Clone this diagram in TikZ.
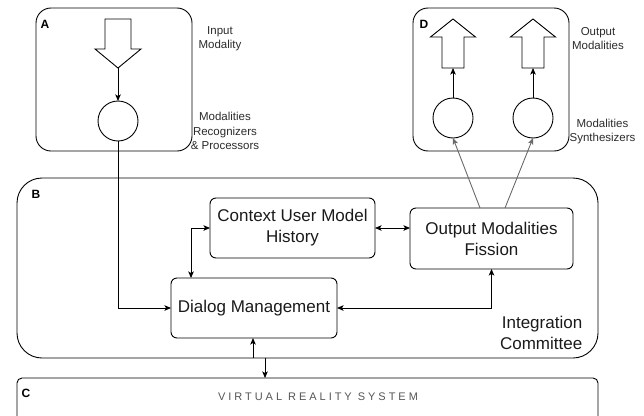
\documentclass[tikz,border=0pt]{standalone}
\usepackage{fontspec}
\setmainfont{Liberation Sans}
\usetikzlibrary{arrows.meta}
\definecolor{ink}{HTML}{1A1A1A}
\definecolor{note}{HTML}{2B2B2B}
\definecolor{soft}{HTML}{555555}
\definecolor{link}{HTML}{6A6A6A}
\begin{document}
\begin{tikzpicture}[x=1pt,y=-1pt,
  line width=0.9pt,
  tip/.tip={Stealth[length=6.5pt,width=5.5pt,inset=1.5pt]},
  arr/.style={-tip},
  both/.style={tip-tip},
  group/.style={draw, outer sep=0pt, inner sep=0pt},
  proc/.style={draw, rounded corners=6pt, outer sep=0pt, align=center,
    text=ink, font=\fontsize{17}{21}\selectfont},
  unit/.style={draw, circle, minimum size=40pt, inner sep=0pt, outer sep=0pt},
  block/.style={draw, line join=miter},
  note/.style={align=center, text=note, font=\fontsize{11.5}{14.5}\selectfont},
  tag/.style={text=black, font=\fontsize{12}{14}\selectfont\bfseries, inner sep=0pt},
]
\useasboundingbox (0,0) rectangle (644,415);
\clip (0,0) rectangle (644,415);

% ---- group frames ----
\node[group, rounded corners=15pt, minimum width=156pt, minimum height=143pt] (A) at (114,79.5) {};
\node[group, rounded corners=15pt, minimum width=156pt, minimum height=143pt] (D) at (491,79.5) {};
\node[group, rounded corners=25pt, minimum width=581pt, minimum height=180pt] (B) at (307.5,268) {};
\node[group, rounded corners=5pt, minimum width=581pt, minimum height=62pt] (C) at (307.5,409) {};

\node[tag] (tA) at (45,24) {A};
\node[tag] (tD) at (424,24) {D};
\node[tag] (tB) at (36,194) {B};
\node[tag] (tC) at (26,393) {C};

% ---- input side ----
\draw[block] (105,19) -- (131,19) -- (131,49) -- (141,49) -- (118,68) -- (95,49) -- (105,49) -- cycle;
\coordinate (inTip) at (118,68);
\node[unit] (rec) at (118,121) {};
\node[note] (inLbl) at (220,38.5) {Input\\Modality};
\node[note] (recLbl) at (225,131) {Modalities\\Recognizers\\\& Processors};

% ---- output side ----
\draw[block] (453,19) -- (475.5,37) -- (464,37) -- (464,68) -- (442,68) -- (442,37) -- (430.5,37) -- cycle;
\draw[block] (533,19) -- (555.5,37) -- (544,37) -- (544,68) -- (522,68) -- (522,37) -- (510.5,37) -- cycle;
\coordinate (outL) at (453,68);
\coordinate (outR) at (533,68);
\node[unit] (synL) at (453,118) {};
\node[unit] (synR) at (533,118) {};
\node[note] (outLbl) at (598,38.5) {Output\\Modalities};
\node[note] (synLbl) at (602.5,131.5) {Modalities\\Synthesizers};

% ---- integration committee ----
\node[proc, minimum width=165pt, minimum height=60pt] (ctx) at (292.5,228) {Context User Model\\History};
\node[proc, minimum width=166pt, minimum height=60pt] (dlg) at (254,308) {Dialog Management};
\node[proc, minimum width=163pt, minimum height=61pt] (fis) at (491.5,238.5) {Output Modalities\\Fission};
\node[align=right, text=ink, font=\fontsize{17}{21}\selectfont, anchor=east] (icLbl) at (586,332.5) {Integration\\Committee};

\node[text=soft, font=\fontsize{11}{13}\selectfont\addfontfeature{LetterSpace=27}] (vrLbl) at (318,397) {VIRTUAL REALITY SYSTEM};

% ---- connectors ----
\draw[arr] (inTip) -- (rec.north);
\draw[arr] (rec.south) |- (dlg.west);
\draw[both] (ctx.west) -| ([xshift=20pt]dlg.north west);
\draw[both] (ctx.east) -- (ctx.east -| fis.west);
\draw[both] (dlg.east) -| (fis.south);
\draw[arr] ([xshift=-1pt]dlg.south |- B.south) -- ([xshift=-1pt]dlg.south);
\draw[arr] ([xshift=11pt]dlg.south |- B.south) -- ([xshift=11pt]dlg.south |- C.north);
\draw[arr, draw=link] ([xshift=-11.5pt]fis.north) -- (synL.south);
\draw[arr, draw=link] ([xshift=13.5pt]fis.north) -- (synR.south);
\draw[arr] (synL.north) -- (outL);
\draw[arr] (synR.north) -- (outR);
\end{tikzpicture}
\end{document}
